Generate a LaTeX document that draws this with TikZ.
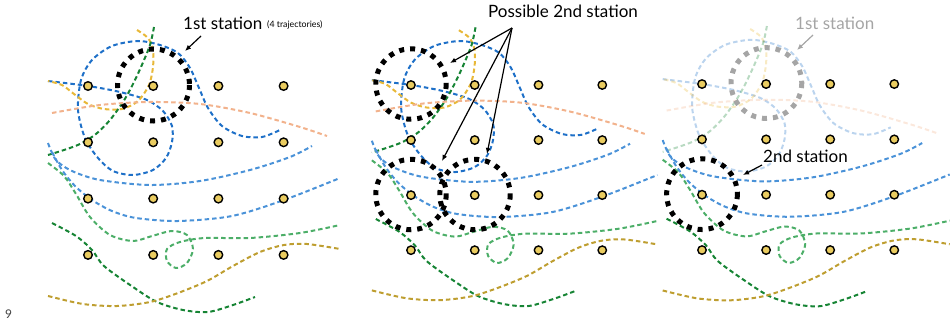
\documentclass[tikz,border=0pt]{standalone}
\usepackage{fontspec}
\setmainfont{Lato}
\usetikzlibrary{arrows.meta}

\definecolor{loopblue}{RGB}{30,112,200}
\definecolor{arcblue}{RGB}{74,146,216}
\definecolor{trajyellow}{RGB}{232,184,56}
\definecolor{trajgreen}{RGB}{22,132,52}
\definecolor{midgreen}{RGB}{76,174,104}
\definecolor{trajorange}{RGB}{242,178,140}
\definecolor{trajolive}{RGB}{190,158,48}
\definecolor{dotyellow}{RGB}{234,204,96}
\definecolor{fadegray}{RGB}{165,165,165}

\tikzset{
  traj/.style={line width=2pt, dash pattern=on 4.5pt off 3pt},
  station/.style={line width=5pt, dash pattern=on 5pt off 6pt},
  gridpt/.style={draw=black, fill=dotyellow, line width=1.4pt},
  callout/.style={line width=1.2pt, -{Latex[length=6pt,width=5pt]}},
  bigtext/.style={font=\fontsize{17}{19}\selectfont, inner sep=0, anchor=base west},
  smalltext/.style={font=\fontsize{8.8}{10}\selectfont, inner sep=0, anchor=base west},
}

% the four trajectories through the 1st station
\newcommand{\firsttrajs}{%
  \draw[traj, loopblue] plot[smooth] coordinates {(48,81) (88,86) (120,92) (147,100) (163,111) (172,126) (172,142) (166,158) (153,170) (133,175) (113,171) (98,158) (85,138) (78,110) (81,80) (92,60) (112,46) (138,41) (160,45) (178,53) (190,68) (199,88) (208,108) (222,126) (242,136) (262,137) (280,130)};
  \draw[traj, trajyellow] plot[smooth] coordinates {(137,30) (148,38) (153,50) (153,67) (149,85) (138,101) (122,109) (104,109) (88,104) (74,94) (62,85) (48,81)};
  \draw[traj, trajgreen] plot[smooth] coordinates {(154,27) (150,45) (141,67) (132,86) (123,102) (110,120) (96,134) (80,144) (64,150) (48,155)};
  \draw[traj, trajorange] plot[smooth] coordinates {(52,113) (100,105) (150,102) (200,104) (250,113) (300,127) (327,136)};
}
% the other trajectories
\newcommand{\othertrajs}{%
  \draw[traj, arcblue] plot[smooth] coordinates {(48,143) (56,160) (72,171) (100,180) (150,185) (200,181) (250,170) (290,157) (312,146)};
  \draw[traj, arcblue] plot[smooth] coordinates {(52,152) (62,170) (75,186) (92,200) (112,211) (136,218) (178,221) (232,216) (284,200) (340,178)};
  \draw[traj, midgreen] plot[smooth] coordinates {(48,163) (64,176) (76,194) (90,217) (110,235) (133,241) (152,236) (172,231) (187,235) (193,249) (187,263) (176,268) (167,261) (167,249) (180,242) (205,238) (250,238) (300,233) (340,225)};
  \draw[traj, trajgreen] plot[smooth] coordinates {(52,223) (76,236) (92,250) (104,266) (133,287) (157,302) (183,310) (208,312) (233,305) (255,297)};
  \draw[traj, trajolive] plot[smooth] coordinates {(48,296) (83,304) (117,306) (150,302) (178,293) (207,281) (233,266) (260,252) (284,245) (307,244) (340,249)};
}
\newcommand{\gridpts}{%
  \foreach \i in {0,...,3}
    \foreach \j in {0,...,3}
      \filldraw[gridpt] (88+65.2*\i, 86+56.3*\j) circle (4.3);
}

\begin{document}
\begin{tikzpicture}[x=1pt, y=-1pt]
  \useasboundingbox (0,0) rectangle (950,321);

  %%% panel 1
  \firsttrajs
  \othertrajs
  \gridpts
  \draw[station] (153.5,85) circle (36);

  %%% panel 2
  \begin{scope}[shift={(324.9,0.9)}, scale=0.978]
    \firsttrajs
    \othertrajs
    \gridpts
    \draw[station] (88,85) circle (36);
    \draw[station] (88,198) circle (36);
    \draw[station] (153.5,198) circle (36);
  \end{scope}

  %%% panel 3
  \begin{scope}[shift={(615.5,-0.5)}, scale=0.983]
    \begin{scope}[opacity=0.3]
      \firsttrajs
    \end{scope}
    \othertrajs
    \gridpts
    \draw[station, fadegray] (153.5,85) circle (36);
    \draw[station] (88,198) circle (36);
  \end{scope}

  %%% labels
  \node[bigtext] (first) at (183,30) {1st station};
  \node[smalltext] (count) at (267,28) {(4 trajectories)};
  \coordinate (firsttail) at (201,36);
  \coordinate (firsttip) at (185,51);
  \draw[callout] (firsttail) -- (firsttip);

  \node[bigtext] (possible) at (488,18) {Possible 2nd station};
  \coordinate (possibletail) at (512,28);
  \coordinate (tipA) at (450,63);
  \coordinate (tipB) at (442,161);
  \coordinate (tipC) at (487,154);
  \draw[callout] (possibletail) -- (tipA);
  \draw[callout] (possibletail) -- (tipB);
  \draw[callout] (possibletail) -- (tipC);

  \node[bigtext, fadegray] (oldfirst) at (795,30) {1st station};
  \coordinate (oldtail) at (813,35);
  \coordinate (oldtip) at (797,50);
  \draw[callout, fadegray] (oldtail) -- (oldtip);

  \node[bigtext] (second) at (763,162.5) {2nd station};
  \coordinate (secondtail) at (762,165);
  \coordinate (secondtip) at (743,175);
  \draw[callout] (secondtail) -- (secondtip);

  \node[font=\fontsize{12}{13}\selectfont, text=black!75, inner sep=0, anchor=base west] (pagenum) at (5,318) {9};
\end{tikzpicture}
\end{document}
